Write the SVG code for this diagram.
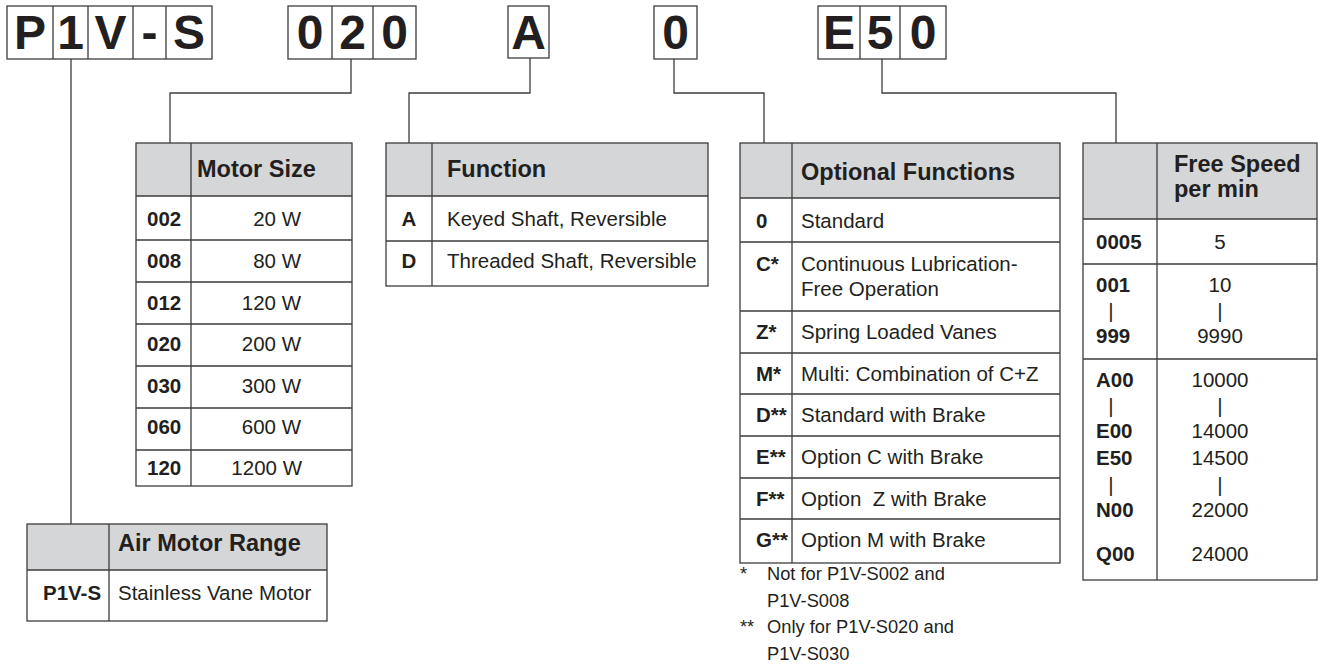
<svg xmlns="http://www.w3.org/2000/svg" width="1318" height="668" viewBox="0 0 1318 668">
<style>
  .bg{fill:#ffffff}
  .hd{fill:#d5d6d8}
  .ln{stroke:#3c3c3c;stroke-width:1.3;fill:none}
  .box{stroke:#3c3c3c;stroke-width:1.3;fill:#ffffff}
  text{font-family:"Liberation Sans",Arial,Helvetica,sans-serif;fill:#231f20}
  .big{font-size:48px;font-weight:bold;text-anchor:middle}
  .h{font-size:23.5px;font-weight:bold}
  .c{font-size:20.5px;font-weight:bold}
  .t{font-size:20.5px}
  .m{text-anchor:middle}
  .e{text-anchor:end}
  .fn{font-size:18.3px}
</style>
<rect class="bg" x="0" y="0" width="1318" height="668"/>

<g id="connectors" class="ln">
  <path d="M71 59 V524"/>
  <path d="M351 59 V93 H170 V143"/>
  <path d="M530 58 V93 H409 V143"/>
  <path d="M674 59 V93 H764 V143"/>
  <path d="M882 59 V93 H1116 V143"/>
</g>

<g id="code-p1vs">
  <rect class="box" x="7" y="6" width="205" height="53"/>
  <path class="ln" d="M53 6 V59 M88 6 V59 M133 6 V59 M166 6 V59"/>
  <text class="big" x="30" y="49">P</text>
  <text class="big" x="70.5" y="49">1</text>
  <text class="big" x="110.5" y="49">V</text>
  <text class="big" x="149.5" y="49">-</text>
  <text class="big" x="189" y="49">S</text>
</g>

<g id="code-020">
  <rect class="box" x="288" y="6" width="128" height="53"/>
  <path class="ln" d="M332 6 V59 M373 6 V59"/>
  <text class="big" x="310" y="49">0</text>
  <text class="big" x="352.5" y="49">2</text>
  <text class="big" x="394.5" y="49">0</text>
</g>

<g id="code-a">
  <rect class="box" x="508" y="6" width="41" height="52"/>
  <text class="big" x="528.5" y="49">A</text>
</g>

<g id="code-0">
  <rect class="box" x="654" y="6" width="43" height="53"/>
  <text class="big" x="675.5" y="49">0</text>
</g>

<g id="code-e50">
  <rect class="box" x="818" y="6" width="128" height="53"/>
  <path class="ln" d="M860 6 V59 M900 6 V59"/>
  <text class="big" x="839" y="49">E</text>
  <text class="big" x="880" y="49">5</text>
  <text class="big" x="923" y="49">0</text>
</g>

<g id="table-motor-size">
  <rect class="hd" x="136" y="143" width="216" height="53"/>
  <rect class="ln" x="136" y="143" width="216" height="343"/>
  <path class="ln" d="M191 143 V486 M136 196 H352 M136 240 H352 M136 282 H352 M136 324 H352 M136 366 H352 M136 408 H352 M136 450 H352"/>
  <text class="h" x="197" y="177">Motor Size</text>
  <text class="c" x="147" y="226">002</text><text class="t e" x="301" y="226">20 W</text>
  <text class="c" x="147" y="268">008</text><text class="t e" x="301" y="268">80 W</text>
  <text class="c" x="147" y="310">012</text><text class="t e" x="301" y="310">120 W</text>
  <text class="c" x="147" y="351">020</text><text class="t e" x="301" y="351">200 W</text>
  <text class="c" x="147" y="393">030</text><text class="t e" x="301" y="393">300 W</text>
  <text class="c" x="147" y="434">060</text><text class="t e" x="301" y="434">600 W</text>
  <text class="c" x="147" y="475">120</text><text class="t e" x="302" y="475">1200 W</text>
</g>

<g id="table-function">
  <rect class="hd" x="386" y="143" width="322" height="53"/>
  <rect class="ln" x="386" y="143" width="322" height="143"/>
  <path class="ln" d="M432 143 V286 M386 196 H708 M386 241 H708"/>
  <text class="h" x="447" y="177">Function</text>
  <text class="c m" x="409" y="226">A</text><text class="t" x="447" y="226">Keyed Shaft, Reversible</text>
  <text class="c m" x="409" y="268">D</text><text class="t" x="447" y="268">Threaded Shaft, Reversible</text>
</g>

<g id="table-optional-functions">
  <rect class="hd" x="740" y="143" width="320" height="55"/>
  <rect class="ln" x="740" y="143" width="320" height="420"/>
  <path class="ln" d="M792 143 V563 M740 198 H1060 M740 242 H1060 M740 311 H1060 M740 353 H1060 M740 394 H1060 M740 436 H1060 M740 478 H1060 M740 519 H1060"/>
  <text class="h" x="801" y="180">Optional Functions</text>
  <text class="c" x="756" y="228">0</text><text class="t" x="801" y="228">Standard</text>
  <text class="c" x="756" y="270.5">C*</text><text class="t" x="801" y="270.5">Continuous Lubrication-</text>
  <text class="t" x="801" y="295.5">Free Operation</text>
  <text class="c" x="756" y="339">Z*</text><text class="t" x="801" y="339">Spring Loaded Vanes</text>
  <text class="c" x="756" y="380.5">M*</text><text class="t" x="801" y="380.5">Multi: Combination of C+Z</text>
  <text class="c" x="756" y="422">D**</text><text class="t" x="801" y="422">Standard with Brake</text>
  <text class="c" x="756" y="464">E**</text><text class="t" x="801" y="464">Option C with Brake</text>
  <text class="c" x="756" y="505.5">F**</text><text class="t" x="801" y="505.5" xml:space="preserve">Option  Z with Brake</text>
  <text class="c" x="756" y="547">G**</text><text class="t" x="801" y="547">Option M with Brake</text>
</g>

<g id="footnotes">
  <text class="fn" x="740" y="580">*</text>
  <text class="fn" x="767" y="580">Not for P1V-S002 and</text>
  <text class="fn" x="767" y="607">P1V-S008</text>
  <text class="fn" x="740" y="633">**</text>
  <text class="fn" x="767" y="633">Only for P1V-S020 and</text>
  <text class="fn" x="767" y="660">P1V-S030</text>
</g>

<g id="table-free-speed">
  <rect class="hd" x="1083" y="143" width="234" height="76"/>
  <rect class="ln" x="1083" y="143" width="234" height="437"/>
  <path class="ln" d="M1157 143 V580 M1083 219 H1317 M1083 264 H1317 M1083 359 H1317"/>
  <text class="h" x="1174" y="172">Free Speed</text>
  <text class="h" x="1174" y="197">per min</text>
  <text class="c" x="1096" y="249">0005</text><text class="t m" x="1220" y="249">5</text>
  <text class="c" x="1096" y="292">001</text><text class="t m" x="1220" y="292">10</text>
  <text class="t m" x="1111" y="318">|</text><text class="t m" x="1220" y="318">|</text>
  <text class="c" x="1096" y="343">999</text><text class="t m" x="1220" y="343">9990</text>
  <text class="c" x="1096" y="387">A00</text><text class="t m" x="1220" y="387">10000</text>
  <text class="t m" x="1111" y="413">|</text><text class="t m" x="1220" y="413">|</text>
  <text class="c" x="1096" y="438">E00</text><text class="t m" x="1220" y="438">14000</text>
  <text class="c" x="1096" y="465">E50</text><text class="t m" x="1220" y="465">14500</text>
  <text class="t m" x="1111" y="492">|</text><text class="t m" x="1220" y="492">|</text>
  <text class="c" x="1096" y="517">N00</text><text class="t m" x="1220" y="517">22000</text>
  <text class="c" x="1096" y="561">Q00</text><text class="t m" x="1220" y="561">24000</text>
</g>

<g id="table-air-motor-range">
  <rect class="hd" x="27" y="524" width="300" height="46"/>
  <rect class="ln" x="27" y="524" width="300" height="97"/>
  <path class="ln" d="M109 524 V621 M27 570 H327"/>
  <text class="h" x="118" y="551">Air Motor Range</text>
  <text class="c" x="43" y="600">P1V-S</text>
  <text class="t" x="118" y="600">Stainless Vane Motor</text>
</g>
</svg>
